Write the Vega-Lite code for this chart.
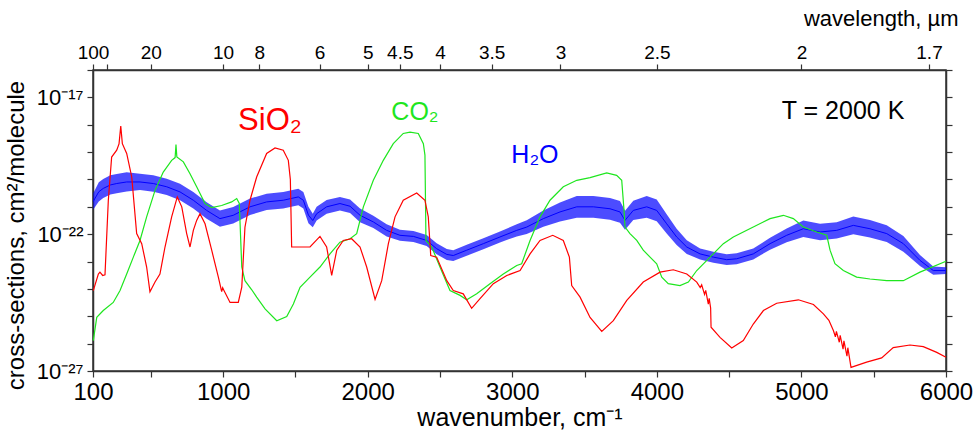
{
  "$schema": "https://vega.github.io/schema/vega-lite/v6.json",
  "width": 853,
  "height": 301,
  "autosize": {"type": "none"},
  "padding": {"left": 93, "top": 70, "right": 30, "bottom": 65},
  "background": "white",
  "config": {
    "font": "Liberation Sans",
    "view": {"stroke": "#333", "strokeWidth": 1.5},
    "axis": {"grid": false, "domainColor": "#333", "domainWidth": 1.5, "tickColor": "#333", "tickWidth": 1.2, "tickSize": 6, "labelColor": "#000", "titleColor": "#000", "labelFont": "Liberation Sans", "titleFont": "Liberation Sans", "titleFontWeight": "normal", "labelOverlap": false, "labelFlush": false}
  },
  "datasets": {
    "sio2": [
      {"wavenumber": 102, "sigma": 8.7e-25}, {"wavenumber": 137, "sigma": 3.5e-24}, {"wavenumber": 148, "sigma": 4.1e-24}, {"wavenumber": 167, "sigma": 3.1e-24}, {"wavenumber": 183, "sigma": 3.3e-24},
      {"wavenumber": 206, "sigma": 1.74e-21}, {"wavenumber": 229, "sigma": 6.6e-20}, {"wavenumber": 264, "sigma": 1.17e-19}, {"wavenumber": 280, "sigma": 2.0e-19}, {"wavenumber": 292, "sigma": 8.9e-19},
      {"wavenumber": 303, "sigma": 2.04e-19}, {"wavenumber": 333, "sigma": 8.9e-20}, {"wavenumber": 368, "sigma": 1.23e-20}, {"wavenumber": 402, "sigma": 1.05e-22}, {"wavenumber": 437, "sigma": 4.5e-23},
      {"wavenumber": 471, "sigma": 6.3e-24}, {"wavenumber": 494, "sigma": 7.9e-25}, {"wavenumber": 529, "sigma": 1.78e-24}, {"wavenumber": 563, "sigma": 3.5e-24}, {"wavenumber": 598, "sigma": 3.4e-23},
      {"wavenumber": 644, "sigma": 4.3e-22}, {"wavenumber": 683, "sigma": 2.3e-21}, {"wavenumber": 714, "sigma": 1.0e-21}, {"wavenumber": 748, "sigma": 1.05e-22}, {"wavenumber": 771, "sigma": 3.4e-23},
      {"wavenumber": 794, "sigma": 1.38e-22}, {"wavenumber": 817, "sigma": 3.2e-22}, {"wavenumber": 840, "sigma": 5.6e-22}, {"wavenumber": 875, "sigma": 2.4e-22}, {"wavenumber": 921, "sigma": 2.6e-23},
      {"wavenumber": 967, "sigma": 2.7e-24}, {"wavenumber": 990, "sigma": 7.9e-25}, {"wavenumber": 997, "sigma": 1.1e-24}, {"wavenumber": 1005, "sigma": 9e-25}, {"wavenumber": 1048, "sigma": 3.2e-25},
      {"wavenumber": 1105, "sigma": 3.2e-25}, {"wavenumber": 1129, "sigma": 1.15e-24}, {"wavenumber": 1151, "sigma": 1.8e-22}, {"wavenumber": 1186, "sigma": 1.74e-21}, {"wavenumber": 1232, "sigma": 1.23e-20},
      {"wavenumber": 1301, "sigma": 8.9e-20}, {"wavenumber": 1359, "sigma": 1.41e-19}, {"wavenumber": 1416, "sigma": 1.17e-19}, {"wavenumber": 1451, "sigma": 5.0e-20}, {"wavenumber": 1465, "sigma": 1e-20},
      {"wavenumber": 1474, "sigma": 3.4e-23}, {"wavenumber": 1601, "sigma": 3.4e-23}, {"wavenumber": 1670, "sigma": 8.3e-23}, {"wavenumber": 1716, "sigma": 3.4e-23}, {"wavenumber": 1751, "sigma": 3.1e-24},
      {"wavenumber": 1786, "sigma": 2.6e-23}, {"wavenumber": 1831, "sigma": 5.9e-23}, {"wavenumber": 1889, "sigma": 6.8e-23}, {"wavenumber": 1947, "sigma": 3.4e-23}, {"wavenumber": 1993, "sigma": 6.3e-24},
      {"wavenumber": 2051, "sigma": 4.1e-25}, {"wavenumber": 2097, "sigma": 2.0e-24}, {"wavenumber": 2143, "sigma": 4.5e-23}, {"wavenumber": 2189, "sigma": 4.3e-22}, {"wavenumber": 2246, "sigma": 1.74e-21},
      {"wavenumber": 2339, "sigma": 3.2e-21}, {"wavenumber": 2396, "sigma": 1.74e-21}, {"wavenumber": 2419, "sigma": 4.3e-22}, {"wavenumber": 2436, "sigma": 1.66e-23}, {"wavenumber": 2477, "sigma": 1.45e-23},
      {"wavenumber": 2547, "sigma": 2.0e-24}, {"wavenumber": 2592, "sigma": 8.7e-25}, {"wavenumber": 2661, "sigma": 6.6e-25}, {"wavenumber": 2719, "sigma": 1.95e-25}, {"wavenumber": 2777, "sigma": 4.4e-25},
      {"wavenumber": 2869, "sigma": 1.55e-24}, {"wavenumber": 2962, "sigma": 3.1e-24}, {"wavenumber": 3054, "sigma": 4.7e-24}, {"wavenumber": 3123, "sigma": 1.9e-23}, {"wavenumber": 3192, "sigma": 5.9e-23},
      {"wavenumber": 3280, "sigma": 9.1e-23}, {"wavenumber": 3353, "sigma": 5.9e-23}, {"wavenumber": 3395, "sigma": 1.45e-23}, {"wavenumber": 3411, "sigma": 1.32e-24}, {"wavenumber": 3469, "sigma": 5.0e-25},
      {"wavenumber": 3538, "sigma": 9.1e-26}, {"wavenumber": 3619, "sigma": 2.8e-26}, {"wavenumber": 3699, "sigma": 6.9e-26}, {"wavenumber": 3792, "sigma": 3.8e-25}, {"wavenumber": 3906, "sigma": 1.78e-24},
      {"wavenumber": 4022, "sigma": 4.1e-24}, {"wavenumber": 4114, "sigma": 5.0e-24}, {"wavenumber": 4207, "sigma": 3.5e-24}, {"wavenumber": 4276, "sigma": 1.78e-24}, {"wavenumber": 4300, "sigma": 1.12e-24},
      {"wavenumber": 4310, "sigma": 1.41e-24}, {"wavenumber": 4330, "sigma": 6.3e-25}, {"wavenumber": 4338, "sigma": 8.9e-25}, {"wavenumber": 4356, "sigma": 2.8e-25}, {"wavenumber": 4362, "sigma": 4.5e-25},
      {"wavenumber": 4372, "sigma": 2.0e-25}, {"wavenumber": 4375, "sigma": 4.0e-26}, {"wavenumber": 4437, "sigma": 1.7e-26}, {"wavenumber": 4518, "sigma": 6.9e-27}, {"wavenumber": 4598, "sigma": 1.29e-26},
      {"wavenumber": 4667, "sigma": 5.2e-26}, {"wavenumber": 4737, "sigma": 1.62e-25}, {"wavenumber": 4829, "sigma": 3.0e-25}, {"wavenumber": 4979, "sigma": 4.0e-25}, {"wavenumber": 5083, "sigma": 2.7e-25},
      {"wavenumber": 5152, "sigma": 1.23e-25}, {"wavenumber": 5190, "sigma": 7.1e-26}, {"wavenumber": 5221, "sigma": 3.0e-26}, {"wavenumber": 5235, "sigma": 1.78e-26}, {"wavenumber": 5242, "sigma": 2.8e-26},
      {"wavenumber": 5262, "sigma": 1.12e-26}, {"wavenumber": 5268, "sigma": 2.0e-26}, {"wavenumber": 5288, "sigma": 6.3e-27}, {"wavenumber": 5294, "sigma": 1.26e-26}, {"wavenumber": 5315, "sigma": 3.5e-27},
      {"wavenumber": 5321, "sigma": 7.1e-27}, {"wavenumber": 5343, "sigma": 1.35e-27}, {"wavenumber": 5451, "sigma": 2.1e-27}, {"wavenumber": 5555, "sigma": 3.0e-27}, {"wavenumber": 5635, "sigma": 7.2e-27},
      {"wavenumber": 5751, "sigma": 8.9e-27}, {"wavenumber": 5843, "sigma": 7.8e-27}, {"wavenumber": 5936, "sigma": 4.8e-27}, {"wavenumber": 6000, "sigma": 3.2e-27}
    ],
    "co2": [
      {"wavenumber": 102, "sigma": 1.29e-26}, {"wavenumber": 126, "sigma": 9.1e-26}, {"wavenumber": 171, "sigma": 1.62e-25}, {"wavenumber": 240, "sigma": 3.2e-25}, {"wavenumber": 287, "sigma": 8.7e-25},
      {"wavenumber": 333, "sigma": 3.5e-24}, {"wavenumber": 379, "sigma": 1.45e-23}, {"wavenumber": 425, "sigma": 5.9e-23}, {"wavenumber": 471, "sigma": 4.3e-22}, {"wavenumber": 529, "sigma": 4.0e-21},
      {"wavenumber": 586, "sigma": 1.86e-20}, {"wavenumber": 644, "sigma": 5.0e-20}, {"wavenumber": 668, "sigma": 6.3e-20}, {"wavenumber": 674, "sigma": 1.9e-19}, {"wavenumber": 680, "sigma": 6.6e-20},
      {"wavenumber": 725, "sigma": 4.4e-20}, {"wavenumber": 771, "sigma": 1.62e-20}, {"wavenumber": 817, "sigma": 5.4e-21}, {"wavenumber": 875, "sigma": 1.32e-21}, {"wavenumber": 921, "sigma": 9.3e-22},
      {"wavenumber": 990, "sigma": 1.12e-21}, {"wavenumber": 1059, "sigma": 1.51e-21}, {"wavenumber": 1094, "sigma": 2.0e-21}, {"wavenumber": 1112, "sigma": 1.32e-21}, {"wavenumber": 1129, "sigma": 6.3e-24},
      {"wavenumber": 1151, "sigma": 2.0e-24}, {"wavenumber": 1198, "sigma": 9.3e-25}, {"wavenumber": 1232, "sigma": 5.0e-25}, {"wavenumber": 1290, "sigma": 1.86e-25}, {"wavenumber": 1371, "sigma": 6.9e-26},
      {"wavenumber": 1440, "sigma": 9.8e-26}, {"wavenumber": 1486, "sigma": 2.8e-25}, {"wavenumber": 1532, "sigma": 1.15e-24}, {"wavenumber": 1601, "sigma": 2.7e-24}, {"wavenumber": 1670, "sigma": 6.3e-24},
      {"wavenumber": 1739, "sigma": 1.9e-23}, {"wavenumber": 1808, "sigma": 5.1e-23}, {"wavenumber": 1878, "sigma": 6.8e-23}, {"wavenumber": 1924, "sigma": 1.05e-22}, {"wavenumber": 1970, "sigma": 1.0e-21},
      {"wavenumber": 2039, "sigma": 9.3e-21}, {"wavenumber": 2108, "sigma": 5.0e-20}, {"wavenumber": 2177, "sigma": 2.04e-19}, {"wavenumber": 2246, "sigma": 4.8e-19}, {"wavenumber": 2293, "sigma": 5.4e-19},
      {"wavenumber": 2350, "sigma": 4.8e-19}, {"wavenumber": 2385, "sigma": 2.04e-19}, {"wavenumber": 2396, "sigma": 7.8e-20}, {"wavenumber": 2403, "sigma": 5.9e-23}, {"wavenumber": 2443, "sigma": 3.4e-23},
      {"wavenumber": 2500, "sigma": 6.3e-24}, {"wavenumber": 2569, "sigma": 8.7e-25}, {"wavenumber": 2639, "sigma": 5.8e-25}, {"wavenumber": 2685, "sigma": 4.0e-25}, {"wavenumber": 2754, "sigma": 6.6e-25},
      {"wavenumber": 2846, "sigma": 1.55e-24}, {"wavenumber": 2938, "sigma": 3.5e-24}, {"wavenumber": 3031, "sigma": 7.2e-24}, {"wavenumber": 3065, "sigma": 8.3e-24}, {"wavenumber": 3123, "sigma": 5.9e-23},
      {"wavenumber": 3192, "sigma": 4.3e-22}, {"wavenumber": 3261, "sigma": 1.74e-21}, {"wavenumber": 3353, "sigma": 5.4e-21}, {"wavenumber": 3446, "sigma": 9.3e-21}, {"wavenumber": 3538, "sigma": 1.17e-20},
      {"wavenumber": 3653, "sigma": 1.74e-20}, {"wavenumber": 3722, "sigma": 1.41e-20}, {"wavenumber": 3757, "sigma": 9.3e-21}, {"wavenumber": 3773, "sigma": 7.4e-22}, {"wavenumber": 3780, "sigma": 1.82e-22},
      {"wavenumber": 3814, "sigma": 1.05e-22}, {"wavenumber": 3861, "sigma": 5.9e-23}, {"wavenumber": 3906, "sigma": 2.6e-23}, {"wavenumber": 3953, "sigma": 1.45e-23}, {"wavenumber": 3999, "sigma": 8.3e-24},
      {"wavenumber": 4034, "sigma": 2.7e-24}, {"wavenumber": 4079, "sigma": 1.55e-24}, {"wavenumber": 4160, "sigma": 1.32e-24}, {"wavenumber": 4218, "sigma": 1.78e-24}, {"wavenumber": 4276, "sigma": 4.7e-24},
      {"wavenumber": 4368, "sigma": 1.45e-23}, {"wavenumber": 4460, "sigma": 4.5e-23}, {"wavenumber": 4529, "sigma": 7.9e-23}, {"wavenumber": 4667, "sigma": 1.82e-22}, {"wavenumber": 4783, "sigma": 3.7e-22},
      {"wavenumber": 4875, "sigma": 4.9e-22}, {"wavenumber": 4944, "sigma": 3.7e-22}, {"wavenumber": 5013, "sigma": 1.82e-22}, {"wavenumber": 5106, "sigma": 1.2e-22}, {"wavenumber": 5175, "sigma": 9.1e-23},
      {"wavenumber": 5198, "sigma": 2.6e-23}, {"wavenumber": 5232, "sigma": 8.3e-24}, {"wavenumber": 5290, "sigma": 4.7e-24}, {"wavenumber": 5382, "sigma": 2.7e-24}, {"wavenumber": 5474, "sigma": 2.3e-24},
      {"wavenumber": 5590, "sigma": 2.0e-24}, {"wavenumber": 5705, "sigma": 2.0e-24}, {"wavenumber": 5820, "sigma": 4.1e-24}, {"wavenumber": 6000, "sigma": 1.02e-23}
    ],
    "h2o": [
      {"wavenumber": 102, "sigma": 1.58e-21, "lo": 7.9e-22, "hi": 3.16e-21}, {"wavenumber": 140, "sigma": 3.55e-21, "lo": 1.58e-21, "hi": 7.9e-21},
      {"wavenumber": 171, "sigma": 4.7e-21, "lo": 2.1e-21, "hi": 1.05e-20}, {"wavenumber": 220, "sigma": 6.3e-21, "lo": 2.8e-21, "hi": 1.41e-20},
      {"wavenumber": 264, "sigma": 7.1e-21, "lo": 3.16e-21, "hi": 1.58e-20}, {"wavenumber": 333, "sigma": 8.1e-21, "lo": 3.6e-21, "hi": 1.82e-20},
      {"wavenumber": 425, "sigma": 8.1e-21, "lo": 4.1e-21, "hi": 1.62e-20}, {"wavenumber": 517, "sigma": 7.1e-21, "lo": 3.55e-21, "hi": 1.41e-20},
      {"wavenumber": 610, "sigma": 5.4e-21, "lo": 2.7e-21, "hi": 1.07e-20}, {"wavenumber": 702, "sigma": 3.5e-21, "lo": 1.74e-21, "hi": 6.9e-21},
      {"wavenumber": 794, "sigma": 1.74e-21, "lo": 8.7e-22, "hi": 3.5e-21}, {"wavenumber": 886, "sigma": 7.4e-22, "lo": 3.7e-22, "hi": 1.48e-21},
      {"wavenumber": 978, "sigma": 3.7e-22, "lo": 1.86e-22, "hi": 7.4e-22}, {"wavenumber": 1070, "sigma": 4.9e-22, "lo": 2.45e-22, "hi": 9.8e-22},
      {"wavenumber": 1186, "sigma": 1.0e-21, "lo": 5.0e-22, "hi": 2.0e-21}, {"wavenumber": 1301, "sigma": 1.51e-21, "lo": 7.6e-22, "hi": 3.0e-21},
      {"wavenumber": 1416, "sigma": 1.74e-21, "lo": 8.7e-22, "hi": 3.5e-21}, {"wavenumber": 1520, "sigma": 2.3e-21, "lo": 1.15e-21, "hi": 4.6e-21},
      {"wavenumber": 1555, "sigma": 1.74e-21, "lo": 8.7e-22, "hi": 3.5e-21}, {"wavenumber": 1590, "sigma": 5.0e-22, "lo": 2.5e-22, "hi": 1.0e-21},
      {"wavenumber": 1620, "sigma": 3.16e-22, "lo": 1.78e-22, "hi": 5.6e-22}, {"wavenumber": 1647, "sigma": 5.6e-22, "lo": 3.16e-22, "hi": 1.0e-21},
      {"wavenumber": 1716, "sigma": 1.0e-21, "lo": 5.6e-22, "hi": 1.78e-21}, {"wavenumber": 1808, "sigma": 1.32e-21, "lo": 7.4e-22, "hi": 2.3e-21},
      {"wavenumber": 1878, "sigma": 1.05e-21, "lo": 5.9e-22, "hi": 1.86e-21}, {"wavenumber": 1947, "sigma": 4.9e-22, "lo": 2.75e-22, "hi": 8.7e-22},
      {"wavenumber": 2039, "sigma": 2.8e-22, "lo": 1.7e-22, "hi": 4.7e-22}, {"wavenumber": 2131, "sigma": 1.38e-22, "lo": 8.3e-23, "hi": 2.3e-22},
      {"wavenumber": 2223, "sigma": 9.1e-23, "lo": 5.8e-23, "hi": 1.45e-22}, {"wavenumber": 2316, "sigma": 8.3e-23, "lo": 5.2e-23, "hi": 1.32e-22},
      {"wavenumber": 2408, "sigma": 5.9e-23, "lo": 3.7e-23, "hi": 9.3e-23}, {"wavenumber": 2477, "sigma": 2.95e-23, "lo": 1.86e-23, "hi": 4.7e-23},
      {"wavenumber": 2547, "sigma": 1.82e-23, "lo": 1.15e-23, "hi": 2.9e-23}, {"wavenumber": 2592, "sigma": 1.66e-23, "lo": 1.05e-23, "hi": 2.6e-23},
      {"wavenumber": 2685, "sigma": 2.6e-23, "lo": 1.62e-23, "hi": 4.1e-23}, {"wavenumber": 2800, "sigma": 4.5e-23, "lo": 2.8e-23, "hi": 7.1e-23},
      {"wavenumber": 2915, "sigma": 7.9e-23, "lo": 5.0e-23, "hi": 1.26e-22}, {"wavenumber": 3031, "sigma": 1.38e-22, "lo": 8.3e-23, "hi": 2.3e-22},
      {"wavenumber": 3100, "sigma": 1.82e-22, "lo": 1.02e-22, "hi": 3.2e-22}, {"wavenumber": 3215, "sigma": 3.7e-22, "lo": 1.86e-22, "hi": 7.4e-22},
      {"wavenumber": 3330, "sigma": 6.5e-22, "lo": 2.9e-22, "hi": 1.45e-21}, {"wavenumber": 3446, "sigma": 1.0e-21, "lo": 4.0e-22, "hi": 2.5e-21},
      {"wavenumber": 3561, "sigma": 1.0e-21, "lo": 4.0e-22, "hi": 2.5e-21}, {"wavenumber": 3676, "sigma": 8.5e-22, "lo": 3.4e-22, "hi": 2.1e-21},
      {"wavenumber": 3745, "sigma": 6.5e-22, "lo": 2.6e-22, "hi": 1.62e-21}, {"wavenumber": 3780, "sigma": 3.2e-22, "lo": 1.45e-22, "hi": 7.2e-22},
      {"wavenumber": 3837, "sigma": 7.4e-22, "lo": 3.3e-22, "hi": 1.66e-21}, {"wavenumber": 3930, "sigma": 1.0e-21, "lo": 4.0e-22, "hi": 2.5e-21},
      {"wavenumber": 3999, "sigma": 7.4e-22, "lo": 2.95e-22, "hi": 1.86e-21}, {"wavenumber": 4068, "sigma": 2.4e-22, "lo": 1.07e-22, "hi": 5.4e-22},
      {"wavenumber": 4137, "sigma": 7.9e-23, "lo": 4.0e-23, "hi": 1.58e-22}, {"wavenumber": 4207, "sigma": 3.4e-23, "lo": 1.9e-23, "hi": 6.0e-23},
      {"wavenumber": 4299, "sigma": 1.9e-23, "lo": 1.2e-23, "hi": 3.0e-23}, {"wavenumber": 4391, "sigma": 1.45e-23, "lo": 9.1e-24, "hi": 2.3e-23},
      {"wavenumber": 4483, "sigma": 1.17e-23, "lo": 7.4e-24, "hi": 1.86e-23}, {"wavenumber": 4552, "sigma": 1.26e-23, "lo": 7.9e-24, "hi": 2.0e-23},
      {"wavenumber": 4667, "sigma": 1.9e-23, "lo": 1.2e-23, "hi": 3.0e-23}, {"wavenumber": 4783, "sigma": 4.5e-23, "lo": 2.7e-23, "hi": 7.4e-23},
      {"wavenumber": 4898, "sigma": 9.1e-23, "lo": 5.1e-23, "hi": 1.62e-22}, {"wavenumber": 5013, "sigma": 1.58e-22, "lo": 7.9e-23, "hi": 3.16e-22},
      {"wavenumber": 5129, "sigma": 1.2e-22, "lo": 6.0e-23, "hi": 2.4e-22}, {"wavenumber": 5244, "sigma": 1.38e-22, "lo": 6.9e-23, "hi": 2.75e-22},
      {"wavenumber": 5359, "sigma": 2.1e-22, "lo": 1.0e-22, "hi": 4.4e-22}, {"wavenumber": 5474, "sigma": 1.58e-22, "lo": 7.6e-23, "hi": 3.3e-22},
      {"wavenumber": 5590, "sigma": 1.05e-22, "lo": 5.2e-23, "hi": 2.1e-22}, {"wavenumber": 5705, "sigma": 4.5e-23, "lo": 2.3e-23, "hi": 8.5e-23},
      {"wavenumber": 5820, "sigma": 1.1e-23, "lo": 6.9e-24, "hi": 1.74e-23}, {"wavenumber": 5912, "sigma": 4.7e-24, "lo": 3.3e-24, "hi": 6.6e-24},
      {"wavenumber": 6000, "sigma": 4.7e-24, "lo": 3.5e-24, "hi": 6.2e-24}
    ],
    "labels": [
      {"wavenumber": 2327, "sigma": 1.48e-18, "label": "CO₂", "species": "CO2"},
      {"wavenumber": 3157, "sigma": 3.9e-20, "label": "H₂O", "species": "H2O"},
      {"wavenumber": 5288, "sigma": 1.62e-18, "label": "T = 2000 K", "species": "T"}
    ],
    "sio2label": [
      {"wavenumber": 1324, "sigma": 6.3e-19, "label": "SiO₂"}
    ]
  },
  "layer": [
    {
      "data": {"name": "h2o"},
      "mark": {"type": "area", "color": "#0000ff", "opacity": 0.7},
      "encoding": {
        "x": {"field": "wavenumber", "type": "quantitative", "scale": {"domain": [100, 6000], "nice": false, "zero": false},
          "axis": {"orient": "bottom", "values": [100, 500, 1000, 1500, 2000, 2500, 3000, 3500, 4000, 4500, 5000, 5500, 6000], "format": "d",
            "labelExpr": "datum.value % 1000 == 0 || datum.value == 100 ? datum.label : ''", "labelFontSize": 24, "labelPadding": 3,
            "title": "wavenumber, cm⁻¹", "titleFontSize": 25, "titlePadding": 1}},
        "y": {"field": "lo", "type": "quantitative", "scale": {"type": "log", "domain": [1e-27, 1e-16], "nice": false},
          "axis": {"orient": "left", "values": [1e-27, 1e-26, 1e-25, 1e-24, 1e-23, 1e-22, 1e-21, 1e-20, 1e-19, 1e-18, 1e-17, 1e-16],
            "labelExpr": "round(log(datum.value)/LN10) == -17 ? '10⁻¹⁷' : round(log(datum.value)/LN10) == -22 ? '10⁻²²' : round(log(datum.value)/LN10) == -27 ? '10⁻²⁷' : ''",
            "labelFontSize": 22, "labelPadding": 4, "title": "cross-sections, cm²/molecule", "titleFontSize": 24, "titlePadding": 8, "titleY": 165}},
        "y2": {"field": "hi"}
      }
    },
    {
      "data": {"name": "h2o"},
      "mark": {"type": "line", "color": "#0000ff", "strokeWidth": 1},
      "encoding": {
        "x": {"field": "wavenumber", "type": "quantitative", "scale": {"domain": [100, 6000], "nice": false, "zero": false},
          "axis": {"orient": "top", "values": [100, 200, 500, 1000, 1250, 1666.6667, 2000, 2222.2222, 2500, 2857.1429, 3333.3333, 4000, 5000, 5882.3529],
            "labelExpr": "datum.value == 200 ? '' : format(10000/datum.value, '.3~r')", "labelFontSize": 19, "labelPadding": 2,
            "title": "wavelength, µm", "titleFontSize": 22, "titleAnchor": "end", "titleAlign": "right", "titleBaseline": "alphabetic", "titleX": 865, "titleY": -45}},
        "y": {"field": "sigma", "type": "quantitative", "scale": {"type": "log", "domain": [1e-27, 1e-16], "nice": false},
          "axis": {"orient": "right", "values": [1e-27, 1e-26, 1e-25, 1e-24, 1e-23, 1e-22, 1e-21, 1e-20, 1e-19, 1e-18, 1e-17, 1e-16], "labels": false, "title": null}}
      }
    },
    {
      "data": {"name": "co2"},
      "mark": {"type": "line", "color": "#1ee61e", "strokeWidth": 1.2},
      "encoding": {
        "x": {"field": "wavenumber", "type": "quantitative", "scale": {"domain": [100, 6000], "nice": false, "zero": false}, "axis": null},
        "y": {"field": "sigma", "type": "quantitative", "scale": {"type": "log", "domain": [1e-27, 1e-16], "nice": false}, "axis": null}
      }
    },
    {
      "data": {"name": "sio2"},
      "mark": {"type": "line", "color": "#ff0000", "strokeWidth": 1.2},
      "encoding": {
        "x": {"field": "wavenumber", "type": "quantitative", "scale": {"domain": [100, 6000], "nice": false, "zero": false}, "axis": null},
        "y": {"field": "sigma", "type": "quantitative", "scale": {"type": "log", "domain": [1e-27, 1e-16], "nice": false}, "axis": null}
      }
    },
    {
      "data": {"name": "labels"},
      "mark": {"type": "text", "fontSize": 25, "align": "center", "baseline": "alphabetic"},
      "encoding": {
        "x": {"field": "wavenumber", "type": "quantitative", "scale": {"domain": [100, 6000], "nice": false, "zero": false}, "axis": null},
        "y": {"field": "sigma", "type": "quantitative", "scale": {"type": "log", "domain": [1e-27, 1e-16], "nice": false}, "axis": null},
        "text": {"field": "label"},
        "color": {"field": "species", "type": "nominal", "scale": {"domain": ["CO2", "H2O", "T"], "range": ["#1ee61e", "#0000ff", "#000000"]}, "legend": null}
      }
    },
    {
      "data": {"name": "sio2label"},
      "mark": {"type": "text", "fontSize": 31, "align": "center", "baseline": "alphabetic", "color": "#ff0000"},
      "encoding": {
        "x": {"field": "wavenumber", "type": "quantitative", "scale": {"domain": [100, 6000], "nice": false, "zero": false}, "axis": null},
        "y": {"field": "sigma", "type": "quantitative", "scale": {"type": "log", "domain": [1e-27, 1e-16], "nice": false}, "axis": null},
        "text": {"field": "label"}
      }
    }
  ],
  "resolve": {"axis": {"x": "independent", "y": "independent"}}
}
